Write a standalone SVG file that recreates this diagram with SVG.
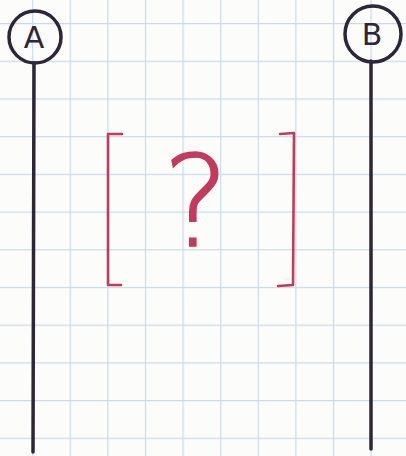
<svg xmlns="http://www.w3.org/2000/svg" width="406" height="456" viewBox="0 0 406 456">
<defs>
<pattern id="grid" x="-5.5" y="23" width="37.6" height="37.7" patternUnits="userSpaceOnUse">
<path d="M0.5 0 V37.7 M0 0.5 H37.6" fill="none" stroke="#c9dbea" stroke-width="1.4"/>
</pattern>
</defs>
<style>
.ink{fill:none;stroke:#2d2539;stroke-width:3.5;stroke-linecap:round}
.red{fill:none;stroke:#c23a5c;stroke-width:2.6;stroke-linecap:round;stroke-linejoin:round}
.lbl{font-family:"DejaVu Sans",sans-serif;font-size:30px;fill:#2d2539;text-anchor:middle}
</style>
<rect width="406" height="456" fill="#fcfcfb"/>
<rect width="406" height="456" fill="url(#grid)"/>
<g id="connectors">
<path class="ink" d="M34 63 C33 150 34 300 33 452"/>
<path class="ink" d="M371 61 C370 150 371 300 371 449"/>
</g>
<g id="nodeA">
<circle class="ink" cx="35" cy="37" r="26" stroke-width="3.2"/>
<text class="lbl" x="34" y="48">A</text>
</g>
<g id="nodeB">
<circle class="ink" cx="373" cy="34" r="28" stroke-width="3.2"/>
<text class="lbl" x="372" y="45" font-size="26">B</text>
</g>
<g id="bracket">
<path class="red" d="M122 134 L108 134 L108 285 L121 285"/>
<path class="red" d="M280 134 L294 133 L293 285 L278 286"/>
<text x="196" y="246" font-family="DejaVu Sans, sans-serif" font-weight="200" font-size="126" fill="#c23a5c" stroke="#c23a5c" stroke-width="1.4" text-anchor="middle">?</text>
</g>
</svg>
